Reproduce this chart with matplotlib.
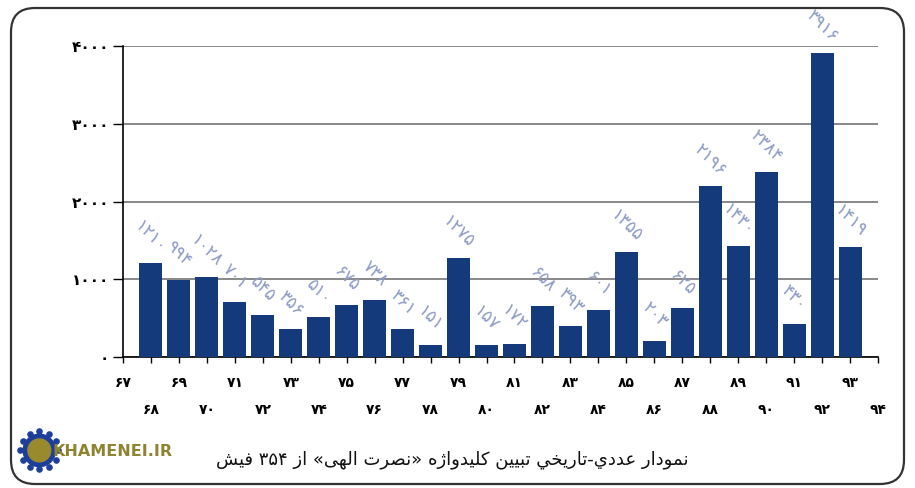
import re
import numpy as np
import matplotlib
matplotlib.use("Agg")
import matplotlib.pyplot as plt
from matplotlib.patches import FancyBboxPatch, Circle
from matplotlib.transforms import IdentityTransform

# years on the axis (67..94), bars only for 68..93
axis_years = list(range(67, 95))
bar_years = list(range(68, 94))
counts = [1210, 994, 1028, 701, 545, 356, 510, 675, 738, 361, 151, 1275, 157,
          172, 658, 393, 601, 1355, 203, 625, 2196, 1430, 2384, 430, 3916, 1419]
y_ticks = [0, 1000, 2000, 3000, 4000]
caption = "نمودار عددي-تاريخي تبيين کليدواژه «نصرت الهی» از ۳۵۴ فيش"

FA = str.maketrans("0123456789", "۰۱۲۳۴۵۶۷۸۹")


def fa(n):
    return str(n).translate(FA)


# minimal arabic/persian shaping: (isolated, final, initial, medial)
FORMS = {
    'ا': (0xFE8D, 0xFE8E), 'د': (0xFEA9, 0xFEAA), 'ر': (0xFEAD, 0xFEAE),
    'ز': (0xFEAF, 0xFEB0), 'و': (0xFEED, 0xFEEE), 'ژ': (0xFB8A, 0xFB8B),
    'ب': (0xFE8F, 0xFE90, 0xFE91, 0xFE92), 'ت': (0xFE95, 0xFE96, 0xFE97, 0xFE98),
    'خ': (0xFEA5, 0xFEA6, 0xFEA7, 0xFEA8), 'ش': (0xFEB5, 0xFEB6, 0xFEB7, 0xFEB8),
    'ص': (0xFEB9, 0xFEBA, 0xFEBB, 0xFEBC), 'ع': (0xFEC9, 0xFECA, 0xFECB, 0xFECC),
    'ف': (0xFED1, 0xFED2, 0xFED3, 0xFED4), 'ل': (0xFEDD, 0xFEDE, 0xFEDF, 0xFEE0),
    'م': (0xFEE1, 0xFEE2, 0xFEE3, 0xFEE4), 'ن': (0xFEE5, 0xFEE6, 0xFEE7, 0xFEE8),
    'ه': (0xFEE9, 0xFEEA, 0xFEEB, 0xFEEC), 'ي': (0xFEF1, 0xFEF2, 0xFEF3, 0xFEF4),
    'ی': (0xFBFC, 0xFBFD, 0xFBFE, 0xFBFF), 'ک': (0xFB8E, 0xFB8F, 0xFB90, 0xFB91),
}


def shape(text):
    out = []
    for i, c in enumerate(text):
        if c not in FORMS:
            out.append(c)
            continue
        f = FORMS[c]
        prev = text[i - 1] if i > 0 else ''
        nxt = text[i + 1] if i + 1 < len(text) else ''
        jp = prev in FORMS and len(FORMS[prev]) == 4
        jn = len(f) == 4 and nxt in FORMS
        if jp and jn:
            out.append(chr(f[3]))
        elif jp:
            out.append(chr(f[1]))
        elif jn:
            out.append(chr(f[2]))
        else:
            out.append(chr(f[0]))
    s = ''.join(out)
    # visual order: reverse, keep digit runs left-to-right, mirror guillemets
    runs = re.findall(r'[0-9۰-۹]+|[^0-9۰-۹]+', s)
    vis = []
    for r in reversed(runs):
        if r[0] in '0123456789۰۱۲۳۴۵۶۷۸۹':
            vis.append(r)
        else:
            vis.append(r[::-1].translate(str.maketrans('«»', '»«')))
    return ''.join(vis)


plt.rcParams['font.family'] = ['DejaVu Sans']

fig = plt.figure(figsize=(9.15, 4.88), dpi=100)
ax = fig.add_axes([123 / 915, 1 - 357 / 488, 755 / 915, 311 / 488])

ax.bar(bar_years, counts, width=0.82, color='#143a7c', zorder=3)
for x, v in zip(bar_years, counts):
    ax.annotate(fa(v), (x, v), xytext=(0, 19), textcoords='offset points',
                ha='center', va='center', rotation=-45, fontsize=12.5,
                color='#8e9cc6', zorder=4)

ax.set_xlim(67, 94)
ax.set_ylim(0, 4000)
ax.set_yticks(y_ticks)
ax.set_yticklabels([fa(t) for t in y_ticks], fontsize=11, fontweight='bold')
ax.grid(axis='y', color='#7f7f7f', linewidth=1.3, zorder=0)

odd = [y for y in axis_years if y % 2 == 1]
even = [y for y in axis_years if y % 2 == 0]
ax.set_xticks(odd)
ax.set_xticklabels([fa(y) for y in odd], fontsize=10, fontweight='bold')
ax.set_xticks(even, minor=True)
ax.set_xticklabels([fa(y) for y in even], minor=True, fontsize=10, fontweight='bold')
ax.tick_params(axis='x', which='major', length=4, width=1, pad=10)
ax.tick_params(axis='x', which='minor', length=4, width=1, pad=29)
ax.tick_params(axis='y', length=7, width=1, pad=3)

for side in ['top', 'right']:
    ax.spines[side].set_visible(False)
ax.spines['left'].set_linewidth(1.2)
ax.spines['bottom'].set_linewidth(1.2)

# rounded frame (pixel coordinates)
frame = FancyBboxPatch((11, 4), 893, 476, boxstyle='round,pad=0,rounding_size=24',
                       transform=IdentityTransform(), fill=False,
                       edgecolor='#333333', linewidth=1.6)
fig.patches.append(frame)

# logo
lax = fig.add_axes([0.018, 0.03, 0.05, 0.094])
lax.set_aspect('equal')
lax.set_xlim(-1.2, 1.2)
lax.set_ylim(-1.2, 1.2)
lax.axis('off')
ang = np.linspace(0, 2 * np.pi, 12, endpoint=False)
lax.scatter(np.cos(ang), np.sin(ang), s=14, color='#1d3f9a')
lax.add_patch(Circle((0, 0), 0.85, color='#1d3f9a'))
lax.add_patch(Circle((0, 0), 0.6, color='#9a8a2e'))
fig.text(0.057, 1 - 452 / 488, 'KHAMENEI.IR', fontsize=11.5, fontweight='bold',
         color='#8f8230', ha='left', va='center')

fig.text(452 / 915, 1 - 460 / 488, shape(caption), fontsize=13,
         ha='center', va='center', color='#111111')

fig.savefig('out.png', dpi=100)
